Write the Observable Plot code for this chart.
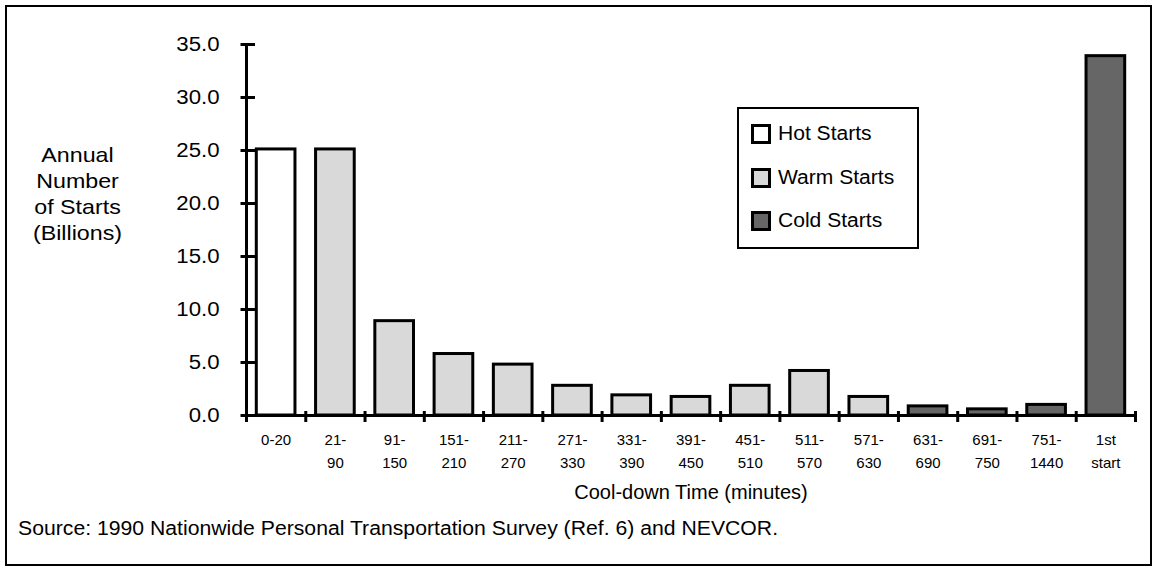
<!DOCTYPE html>
<html><head><meta charset="utf-8">
<script src="https://cdn.jsdelivr.net/npm/d3@7"></script>
<script src="https://cdn.jsdelivr.net/npm/@observablehq/plot@0.6"></script>
<style>
body{margin:0;background:#fff;font-family:"Liberation Sans",Arial,sans-serif;color:#000}
#wrap{position:relative;width:1157px;height:572px;overflow:hidden;background:#fff}
#chart{position:absolute;left:0;top:0}
#frame{position:absolute;left:5px;top:5px;width:1147px;height:561px;border:2.5px solid #000;box-sizing:border-box;pointer-events:none}
#legend{position:absolute;left:737px;top:107px;width:182px;height:142px;border:2.5px solid #000;box-sizing:border-box;background:#fff}
#legend .row{position:absolute;left:0;height:20px;display:flex;align-items:center}
#legend .sw{position:absolute;left:12px;top:0;width:20px;height:20px;border:3px solid #000;box-sizing:border-box}
#legend .lab{position:absolute;left:39px;top:50%;transform:translateY(-50%) scaleX(1.08);transform-origin:left center;font-size:19.5px;white-space:nowrap;line-height:1}
#source{position:absolute;left:18px;top:528px;transform:translateY(-50%) scaleX(1.06);transform-origin:left center;font-size:20px;white-space:nowrap;line-height:1}
</style></head>
<body><div id="wrap"><div id="chart"></div><div id="legend"></div><div id="source"></div><div id="frame"></div></div>
<script>
const categories = ["0-20","21-90","91-150","151-210","211-270","271-330","331-390","391-450","451-510","511-570","571-630","631-690","691-750","751-1440","1st start"];
const labelLine1 = ["0-20","21-","91-","151-","211-","271-","331-","391-","451-","511-","571-","631-","691-","751-","1st"];
const labelLine2 = ["","90","150","210","270","330","390","450","510","570","630","690","750","1440","start"];
const starts = [25.1, 25.1, 8.9, 5.8, 4.8, 2.8, 1.9, 1.75, 2.8, 4.2, 1.75, 0.86, 0.58, 1.0, 33.9];
const startType = ["Hot Starts","Warm Starts","Warm Starts","Warm Starts","Warm Starts","Warm Starts","Warm Starts","Warm Starts","Warm Starts","Warm Starts","Warm Starts","Cold Starts","Cold Starts","Cold Starts","Cold Starts"];
const seriesNames = ["Hot Starts","Warm Starts","Cold Starts"];
const seriesColors = ["#ffffff","#d9d9d9","#666666"];
const yTicks = [0, 5, 10, 15, 20, 25, 30, 35];
const yTitle = ["Annual","Number","of Starts","(Billions)"];
const xTitle = "Cool-down Time (minutes)";
const sourceText = "Source: 1990 Nationwide Personal Transportation Survey (Ref. 6) and NEVCOR.";

const data = categories.map((c, i) => ({i, category: c, l1: labelLine1[i], l2: labelLine2[i], value: starts[i], type: startType[i]}));

const plot = Plot.plot({
  width: 1157, height: 510,
  marginLeft: 246, marginRight: 22, marginTop: 44, marginBottom: 95,
  style: {fontFamily: '"Liberation Sans", Arial, sans-serif', background: "transparent", color: "#000", overflow: "visible"},
  x: {type: "linear", domain: [0, categories.length], axis: null},
  y: {domain: [0, 35], axis: null},
  color: {domain: seriesNames, range: seriesColors},
  marks: [
    Plot.rectY(data, {x1: "i", x2: d => d.i + 1, y: "value", fill: "type", stroke: "#000", strokeWidth: 3, insetLeft: 10.3, insetRight: 10.3}),
    Plot.ruleY([0], {stroke: "#000", strokeWidth: 3, insetRight: -2}),
    Plot.ruleX([0], {stroke: "#000", strokeWidth: 3}),
    Plot.ruleY(yTicks, {y: d => d, x1: () => 0, x2: () => 0, insetLeft: -5.5, insetRight: -9, stroke: "#000", strokeWidth: 3}),
    Plot.ruleX(d3.range(categories.length + 1), {x: d => d, y1: () => 0, y2: () => 0, insetTop: -4, insetBottom: -7, stroke: "#000", strokeWidth: 3}),
    Plot.text(yTicks, {x: () => 0, y: d => d, text: d => d.toFixed(1), textAnchor: "end", dx: -27, fontSize: 20, fill: "#000"}),
    Plot.text(data, {x: d => d.i + 0.5, y: () => 0, text: d => d.l2 ? d.l1 + "\n" + d.l2 : d.l1, lineAnchor: "top", dy: 12.5, lineHeight: 1.55, fontSize: 15, fill: "#000"}),
    Plot.text([xTitle], {frameAnchor: "bottom", dy: 83, fontSize: 20, fill: "#000"}),
    Plot.text([yTitle.join("\n")], {frameAnchor: "top-left", textAnchor: "middle", lineAnchor: "top", dx: -169, dy: 99, lineHeight: 1.27, fontSize: 20.4, fill: "#000"})
  ]
});
document.getElementById("chart").appendChild(plot);

// horizontal stretch of text glyphs (the reference uses slightly widened lettering)
const textGroups = plot.querySelectorAll('g[aria-label="text"]');
function stretch(group, k) {
  if (!group) return;
  group.querySelectorAll("text").forEach(t => {
    const spans = t.querySelectorAll("tspan");
    const els = spans.length ? Array.from(spans) : [t];
    els.forEach(e => {
      const L = e.getComputedTextLength();
      if (L > 0) { e.setAttribute("textLength", L * k); e.setAttribute("lengthAdjust", "spacingAndGlyphs"); }
    });
  });
}
stretch(textGroups[0], 1.11);
stretch(textGroups[3], 1.14);

// legend
const legend = document.getElementById("legend");
const rowTops = [15, 59, 102];
seriesNames.forEach((name, k) => {
  const row = document.createElement("div");
  row.className = "row";
  row.style.top = rowTops[k] + "px";
  row.style.width = "100%";
  const sw = document.createElement("span");
  sw.className = "sw";
  sw.style.background = seriesColors[k];
  const lab = document.createElement("span");
  lab.className = "lab";
  lab.textContent = name;
  row.appendChild(sw); row.appendChild(lab);
  legend.appendChild(row);
});
document.getElementById("source").textContent = sourceText;
</script>
</body></html>
